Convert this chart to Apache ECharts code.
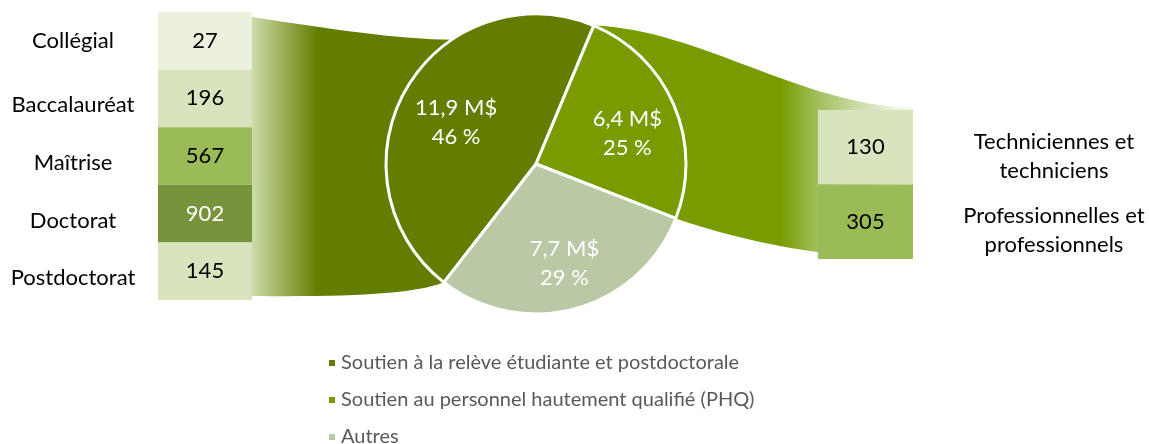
<!DOCTYPE html>
<html>
<head>
<meta charset="utf-8">
<script src="https://cdn.jsdelivr.net/npm/echarts@6/dist/echarts.min.js"></script>
<style>
  html, body { margin: 0; padding: 0; background: #fff; }
  #main { width: 1149px; height: 444px; }
</style>
</head>
<body>
<div id="main"></div>
<script>
// niveaux d'études (gauche)
const levels = ['Collégial', 'Baccalauréat', 'Maîtrise', 'Doctorat', 'Postdoctorat']
const levelCounts = [27, 196, 567, 902, 145]

// personnel (droite)
const staffTypes = ['Techniciennes et\ntechniciens', 'Professionnelles et\nprofessionnels']
const staffCounts = [130, 305]

// répartition du financement (pie)
const fundNames = [
  'Soutien à la relève étudiante et postdoctorale',
  'Soutien au personnel hautement qualifié (PHQ)',
  'Autres'
]
const fundAmounts = [11.9, 6.4, 7.7]
const fundShares = [46, 25, 29]

// couleurs
const fundColors = ['#637D00', '#789B00', '#B9C8A5']
const levelColors = ['#EBF1DE', '#D7E4BD', '#9BBB59', '#77933C', '#D7E4BD']
const levelTextColors = ['#000', '#000', '#000', '#fff', '#000']
const staffColors = ['#D7E4BD', '#9BBB59']

// mise en page
const PIE = { cx: 536, cy: 164, r: 150 }
const START_ANGLE = 232.1
const LEFT_BOX = { x: 158, y: 12, w: 94, h: 288 }
const RIGHT_BOX = { x: 818, y: 110, w: 95, h: 149 }
const FONT = 'Lato'

const chart = echarts.init(document.getElementById('main'))

// point sur un cercle de rayon r, angle en degrés dans le sens horaire depuis midi
function onCircle(deg, r) {
  const a = deg * Math.PI / 180
  const rr = r == null ? PIE.r : r
  return [PIE.cx + rr * Math.sin(a), PIE.cy - rr * Math.cos(a)]
}

// angles des tranches (sens horaire depuis midi)
const total = fundAmounts.reduce((s, v) => s + v, 0)
const sliceStart = []
const sliceMid = []
let acc = 90 - START_ANGLE
fundAmounts.forEach(v => {
  const span = v / total * 360
  sliceStart.push(acc)
  sliceMid.push(acc + span / 2)
  acc += span
})
const phqStart = sliceStart[1]
const phqEnd = sliceStart[2]

function fmtAmount(v) {
  return v.toFixed(1).replace('.', ',')
}

function boxRenderer(colors, textColors) {
  return function (params, api) {
    const idx = api.value(0)
    const cs = params.coordSys
    const y = api.coord([0, idx])[1]
    const h = api.size([0, 1])[1]
    return {
      type: 'rect',
      shape: { x: cs.x, y: y - h / 2, width: cs.width, height: h },
      style: { fill: colors[idx] },
      textContent: {
        style: { text: String(api.value(1)), fill: textColors[idx], fontSize: 22, fontFamily: FONT }
      },
      textConfig: { position: 'inside' }
    }
  }
}

// bande gauche : des boîtes vers la tranche « relève »
const lTop = [LEFT_BOX.x + LEFT_BOX.w, LEFT_BOX.y + 5]
const lBot = [LEFT_BOX.x + LEFT_BOX.w, LEFT_BOX.y + LEFT_BOX.h - 4]
const lPieTop = onCircle(326)
const lPieBot = onCircle(sliceStart[0] + 360)
const leftBand = [
  'M', lTop[0], lTop[1],
  'C', lTop[0] + 78, lTop[1] + 12, lPieTop[0] - 52, lPieTop[1], lPieTop[0], lPieTop[1],
  'L', PIE.cx, PIE.cy,
  'L', lPieBot[0], lPieBot[1],
  'C', lPieBot[0] - 29, lPieBot[1] + 12, lBot[0] + 98, lBot[1] + 1, lBot[0], lBot[1],
  'Z'
].join(' ')

// bande droite : de la tranche PHQ vers les boîtes
const rPieTop = onCircle(phqStart)
const rPieBot = onCircle(phqEnd)
const rTop = [RIGHT_BOX.x + RIGHT_BOX.w, RIGHT_BOX.y - 2]
const rBot = [RIGHT_BOX.x + RIGHT_BOX.w, RIGHT_BOX.y + RIGHT_BOX.h]
const rightBand = [
  'M', rPieTop[0], rPieTop[1],
  'C', rPieTop[0] + 106, rPieTop[1] + 4, rTop[0] - 113, rTop[1] - 3, rTop[0], rTop[1],
  'L', rBot[0], rBot[1],
  'C', rBot[0] - 83, rBot[1], rPieBot[0] + 66, rPieBot[1] + 23, rPieBot[0], rPieBot[1],
  'L', PIE.cx, PIE.cy,
  'Z'
].join(' ')

const leftFill = {
  type: 'linear', x: 252, y: 0, x2: 318, y2: 0, global: true,
  colorStops: [
    { offset: 0, color: '#CCDDA9' },
    { offset: 1, color: '#637D00' }
  ]
}
const rightFill = {
  type: 'linear', x: 780, y: 0, x2: 900, y2: 0, global: true,
  colorStops: [
    { offset: 0, color: '#789B00' },
    { offset: 0.33, color: '#A3C061' },
    { offset: 0.67, color: '#CEDEAE' },
    { offset: 1, color: '#F0F5E6' }
  ]
}

const labelFont = { fontFamily: FONT, fontSize: 22, color: '#000' }

const option = {
  animation: false,
  textStyle: { fontFamily: FONT },
  legend: {
    orient: 'vertical',
    left: 327,
    top: 353,
    height: 120,
    padding: 0,
    icon: 'rect',
    itemWidth: 8,
    itemHeight: 8,
    itemGap: 17,
    selectedMode: false,
    data: fundNames,
    textStyle: { fontFamily: FONT, fontSize: 20, lineHeight: 20, color: '#595959' }
  },
  grid: [
    { left: LEFT_BOX.x, top: LEFT_BOX.y, width: LEFT_BOX.w, height: LEFT_BOX.h },
    { left: RIGHT_BOX.x, top: RIGHT_BOX.y, width: RIGHT_BOX.w, height: RIGHT_BOX.h }
  ],
  xAxis: [
    { gridIndex: 0, type: 'value', min: 0, max: 1, show: false },
    { gridIndex: 1, type: 'value', min: 0, max: 1, show: false }
  ],
  yAxis: [
    {
      gridIndex: 0,
      type: 'category',
      data: levels,
      inverse: true,
      axisLine: { show: false },
      axisTick: { show: false },
      splitLine: { show: false },
      axisLabel: {
        interval: 0,
        margin: 85,
        align: 'center',
        formatter: (v, i) => (i === 0 ? '{a|' + v + '}' : '{b|' + v + '}'),
        rich: {
          a: labelFont,
          b: Object.assign({ padding: [14, 0, 0, 0] }, labelFont)
        }
      }
    },
    {
      gridIndex: 1,
      type: 'category',
      position: 'right',
      data: staffTypes,
      inverse: true,
      axisLine: { show: false },
      axisTick: { show: false },
      splitLine: { show: false },
      axisLabel: {
        interval: 0,
        hideOverlap: false,
        margin: 141,
        align: 'center',
        // ligne vide en tête pour descendre le bloc de texte
        formatter: v => '{s| }\n' + v.split('\n').map(l => '{b|' + l + '}').join('\n'),
        rich: {
          s: { fontSize: 10, lineHeight: 18 },
          b: Object.assign({ lineHeight: 29 }, labelFont)
        }
      }
    }
  ],
  series: [
    {
      // bandes de liaison, derrière le pie et les boîtes
      type: 'custom',
      coordinateSystem: 'none',
      z: 1,
      silent: true,
      data: [0],
      renderItem: function () {
        return {
          type: 'group',
          children: [
            { type: 'path', shape: { pathData: leftBand }, style: { fill: leftFill } },
            { type: 'path', shape: { pathData: rightBand }, style: { fill: rightFill } }
          ]
        }
      }
    },
    {
      type: 'custom',
      xAxisIndex: 0,
      yAxisIndex: 0,
      z: 5,
      silent: true,
      renderItem: boxRenderer(levelColors, levelTextColors),
      encode: { y: 0 },
      data: levelCounts.map((c, i) => [i, c])
    },
    {
      type: 'custom',
      xAxisIndex: 1,
      yAxisIndex: 1,
      z: 5,
      silent: true,
      renderItem: boxRenderer(staffColors, ['#000', '#000']),
      encode: { y: 0 },
      data: staffCounts.map((c, i) => [i, c])
    },
    {
      type: 'pie',
      z: 5,
      center: [PIE.cx, PIE.cy],
      radius: PIE.r,
      startAngle: START_ANGLE,
      clockwise: true,
      avoidLabelOverlap: false,
      silent: true,
      itemStyle: { borderColor: '#fff', borderWidth: 3 },
      label: {
        position: 'inside',
        color: '#fff',
        fontFamily: FONT,
        fontSize: 22,
        lineHeight: 29,
        formatter: p => fmtAmount(fundAmounts[p.dataIndex]) + ' M$\n' + fundShares[p.dataIndex] + ' %'
      },
      labelLine: { show: false },
      // étiquettes à ~0,64 r sur la bissectrice de chaque tranche
      labelLayout: function (p) {
        const pt = onCircle(sliceMid[p.dataIndex], PIE.r * 0.64)
        return { x: pt[0] + 3, y: pt[1] + 7 }
      },
      data: fundNames.map((n, i) => ({ name: n, value: fundAmounts[i], itemStyle: { color: fundColors[i] } }))
    }
  ]
}

chart.setOption(option)
</script>
</body>
</html>
